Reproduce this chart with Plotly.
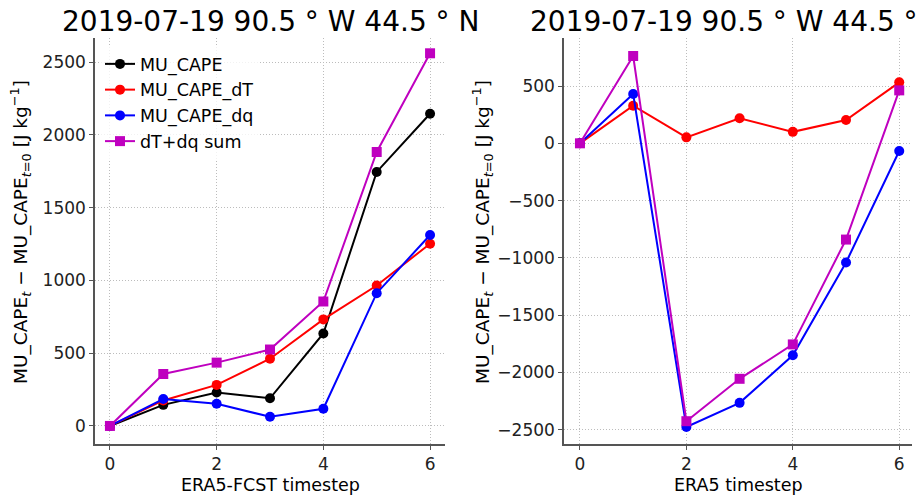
import plotly.graph_objects as go

steps = [0, 1, 2, 3, 4, 5, 6]

# Left panel: ERA5-FCST
fc_mu_cape = [0, 145, 230, 190, 635, 1745, 2145]
fc_mu_cape_dT = [0, 175, 282, 462, 732, 965, 1252]
fc_mu_cape_dq = [0, 185, 152, 63, 118, 912, 1312]
fc_sum = [0, 357, 435, 525, 855, 1882, 2560]

# Right panel: ERA5
e5_mu_cape_dT = [0, 328, 52, 218, 100, 203, 532]
e5_mu_cape_dq = [0, 430, -2475, -2265, -1850, -1040, -67]
e5_sum = [0, 762, -2425, -2055, -1755, -840, 462]

title_text = "2019-07-19 90.5 ° W 44.5 ° N"
ylab = "MU_CAPE<sub><i>t</i></sub> − MU_CAPE<sub><i>t</i>=0</sub> [J kg<sup>−1</sup>]"

FONT = "DejaVu Sans"
W, H = 916, 497

fig = go.Figure()

def add(x, y, name, color, symbol, xa, ya, show, grp):
    fig.add_trace(go.Scatter(
        x=x, y=y, name=name, mode="lines+markers",
        line=dict(color=color, width=2),
        marker=dict(color=color, size=10, symbol=symbol),
        xaxis=xa, yaxis=ya, showlegend=show, legendgroup=grp,
    ))

add(steps, fc_mu_cape, "MU_CAPE", "black", "circle", "x", "y", True, "a")
add(steps, fc_mu_cape_dT, "MU_CAPE_dT", "#ff0000", "circle", "x", "y", True, "b")
add(steps, fc_mu_cape_dq, "MU_CAPE_dq", "#0000ff", "circle", "x", "y", True, "c")
add(steps, fc_sum, "dT+dq sum", "#bf00bf", "square", "x", "y", True, "d")

add(steps, e5_mu_cape_dT, "MU_CAPE_dT", "#ff0000", "circle", "x2", "y2", False, "b")
add(steps, e5_mu_cape_dq, "MU_CAPE_dq", "#0000ff", "circle", "x2", "y2", False, "c")
add(steps, e5_sum, "dT+dq sum", "#bf00bf", "square", "x2", "y2", False, "d")

axcommon = dict(
    showline=True, linecolor="#555555", linewidth=1.5,
    ticks="outside", ticklen=4, tickcolor="#555555", tickwidth=1,
    showgrid=True, gridcolor="#bcbcbc", griddash="1px,2px", gridwidth=1,
    zeroline=False, tickfont=dict(family=FONT, size=17, color="#222222"),
    mirror=False,
)

yd = [1 - 444 / H, 1 - 38 / H]
fig.update_layout(
    width=W, height=H,
    margin=dict(l=0, r=0, t=0, b=0),
    paper_bgcolor="white", plot_bgcolor="white",
    font=dict(family=FONT, color="black"),
    xaxis=dict(domain=[95 / W, 445 / W], range=[-0.28, 6.28], tickvals=[0, 2, 4, 6], **axcommon),
    yaxis=dict(domain=yd, range=[-124, 2665], tickvals=[0, 500, 1000, 1500, 2000, 2500], **axcommon),
    xaxis2=dict(domain=[564 / W, 912 / W], range=[-0.3, 6.24], tickvals=[0, 2, 4, 6], anchor="y2", **axcommon),
    yaxis2=dict(domain=yd, range=[-2624, 919], tickvals=[-2500, -2000, -1500, -1000, -500, 0, 500], anchor="x2",
                tickformat="d", **axcommon),
    showlegend=True,
    legend=dict(x=100 / W, y=1 - 46 / H, xanchor="left", yanchor="top",
                bgcolor="rgba(255,255,255,0.8)", borderwidth=0,
                font=dict(family=FONT, size=17.5, color="black"),
                traceorder="grouped", tracegroupgap=0, itemwidth=30),
)

ann = []
for cx, xt in [(270, "ERA5-FCST timestep"), (738, "ERA5 timestep")]:
    ann.append(dict(text=title_text, x=cx / W, y=1 - 22 / H, xref="paper", yref="paper",
                    showarrow=False, font=dict(family=FONT, size=28, color="black"),
                    xanchor="center", yanchor="middle"))
    ann.append(dict(text=xt, x=cx / W, y=1 - 485 / H, xref="paper", yref="paper",
                    showarrow=False, font=dict(family=FONT, size=17.5, color="black"),
                    xanchor="center", yanchor="middle"))
for lx in [21, 483]:
    ann.append(dict(text=ylab, x=lx / W, y=1 - 232 / H, xref="paper", yref="paper", textangle=-90,
                    showarrow=False, font=dict(family=FONT, size=18.5, color="black"),
                    xanchor="center", yanchor="middle"))
fig.update_layout(annotations=ann)

fig.write_html("out.html", config={"displayModeBar": False},
               post_script="document.body.style.margin='0px';document.body.style.overflow='hidden';")
